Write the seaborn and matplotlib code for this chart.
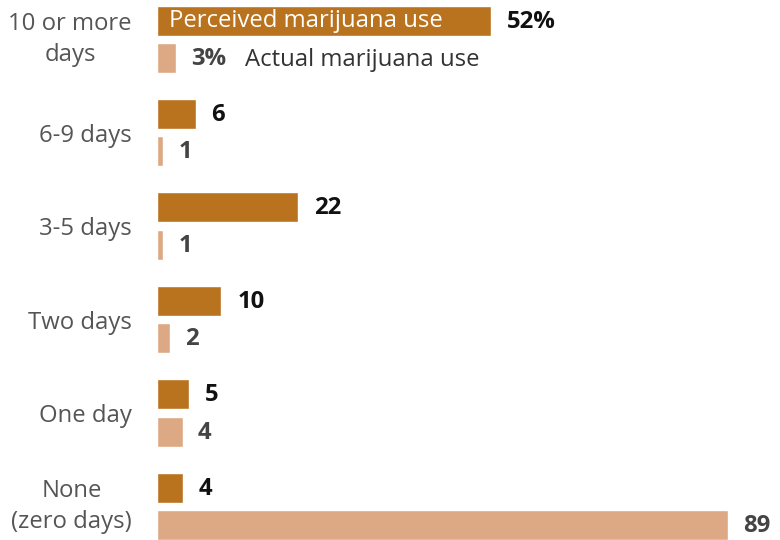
import matplotlib
matplotlib.use("Agg")
import matplotlib.pyplot as plt
import seaborn as sns
import pandas as pd

categories = ["10 or more\ndays", "6-9 days", "3-5 days", "Two days", "One day", "None\n(zero days)"]
perceived = [52, 6, 22, 10, 5, 4]
actual = [3, 1, 1, 2, 4, 89]
series_names = ["Perceived marijuana use", "Actual marijuana use"]

perceived_color = "#B9731F"
actual_color = "#DDA985"

df = pd.DataFrame({
    "category": categories * 2,
    "kind": [series_names[0]] * len(categories) + [series_names[1]] * len(categories),
    "value": perceived + actual,
})

sns.set_theme(style="white")
plt.rcParams["font.family"] = ["Open Sans", "DejaVu Sans"]

FS = 17.2

fig = plt.figure(figsize=(7.8, 5.4), dpi=100)
ax = fig.add_axes([157 / 780, 0, 623 / 780, 1])

sns.barplot(data=df, y="category", x="value", hue="kind", orient="y",
            palette=[perceived_color, actual_color], width=0.8, gap=0.2,
            dodge=True, legend=False, saturation=1, ax=ax)

ax.set_xlim(0, 623 / 6.42)
ax.set_ylim(5.36, -0.42)
sns.despine(ax=ax, left=True, bottom=True)
ax.set_xlabel("")
ax.set_ylabel("")
ax.set_xticks([])
ax.tick_params(axis="y", length=0, pad=18, labelsize=FS, labelcolor="#555555")
for lab in ax.get_yticklabels():
    lab.set_multialignment("center")
    lab.set_linespacing(1.4)
    if "\n" in lab.get_text():
        lab.set_verticalalignment("center")

# value labels at the end of each bar
for i, (p, a) in enumerate(zip(perceived, actual)):
    suffix = "%" if i == 0 else ""
    ax.annotate(f"{p}{suffix}", xy=(p, i - 0.2), xytext=(16, -1), textcoords="offset pixels",
                ha="left", va="center", fontsize=FS, fontweight="bold", color="#111111")
    ax.annotate(f"{a}{suffix}", xy=(a, i + 0.2), xytext=(15, -1), textcoords="offset pixels",
                ha="left", va="center", fontsize=FS, fontweight="bold", color="#444444")

# inline series names
ax.annotate(series_names[0], xy=(0, -0.2), xytext=(12, 0), textcoords="offset pixels",
            ha="left", va="center", fontsize=FS, color="white")
ax.annotate(series_names[1], xy=(actual[0], 0.2), xytext=(69, -2), textcoords="offset pixels",
            ha="left", va="center", fontsize=FS, color="#333333")

fig.savefig("out.png", dpi=100)
